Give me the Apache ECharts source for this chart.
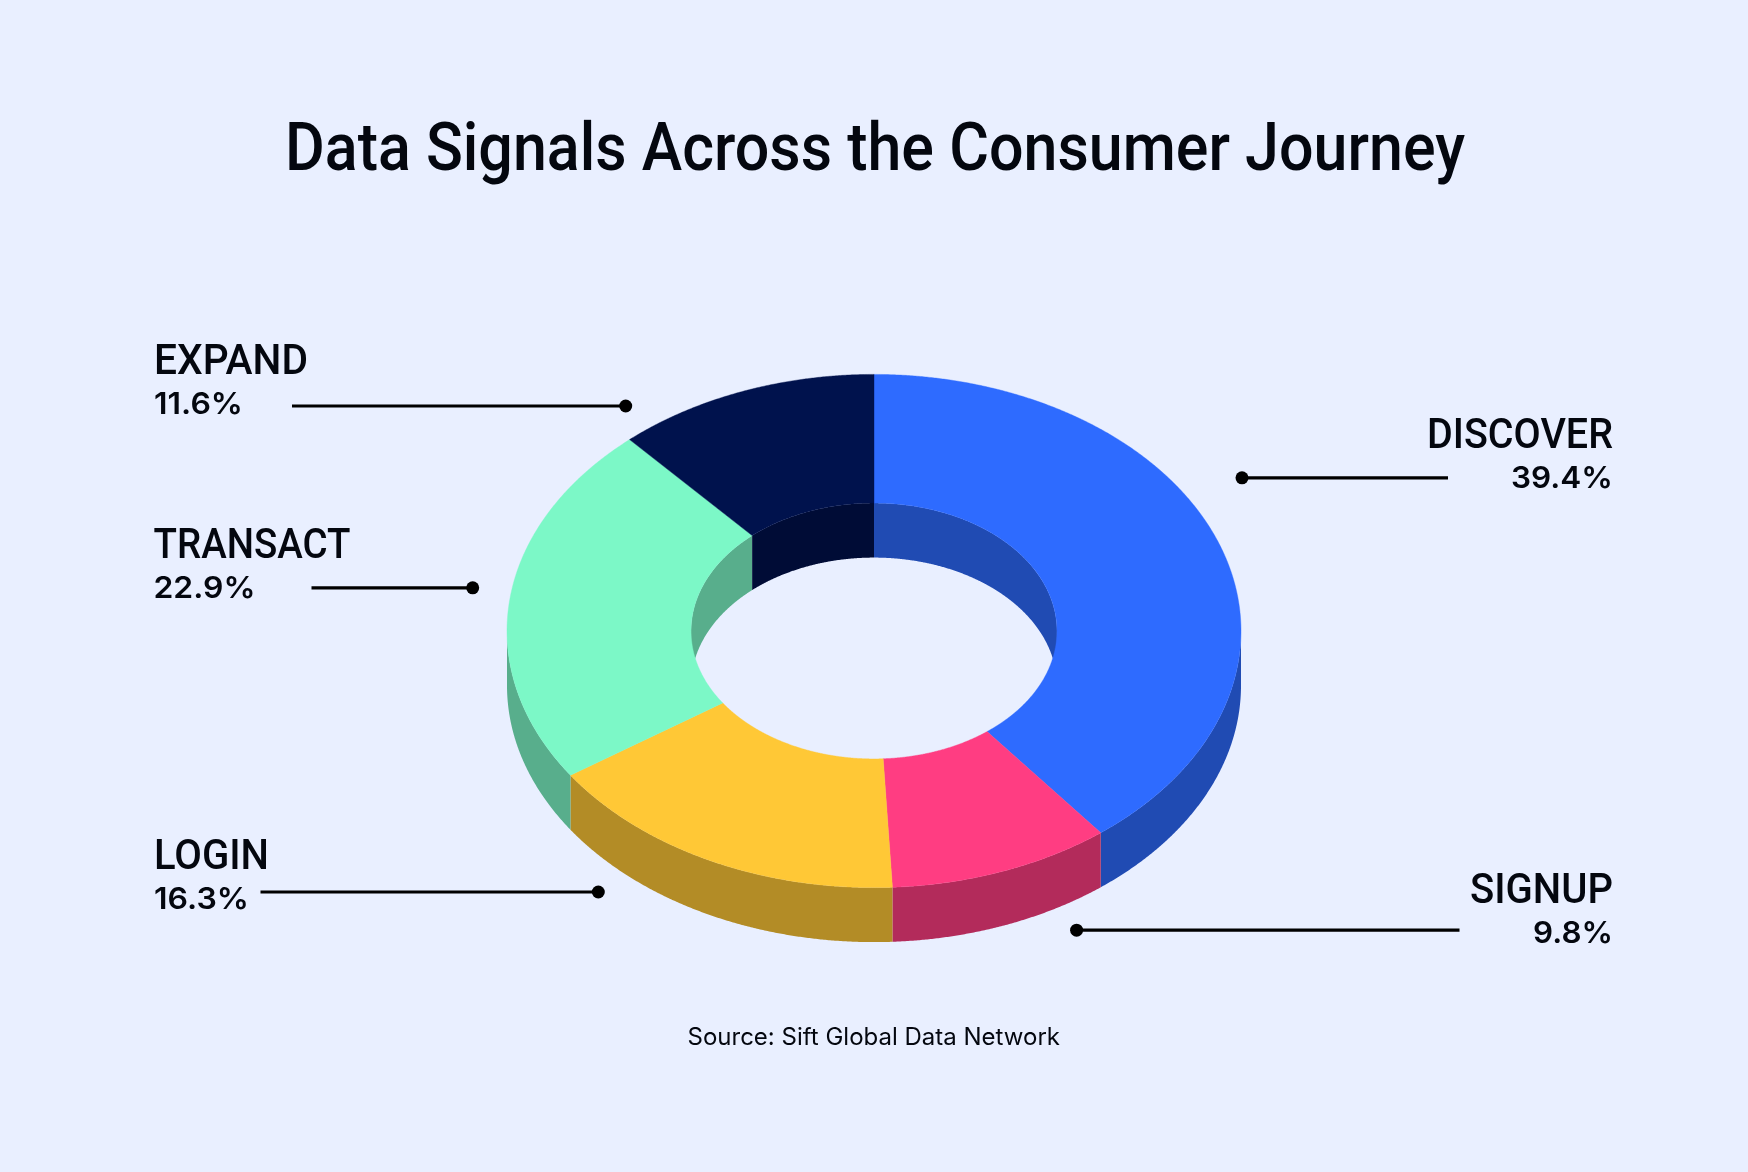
<!DOCTYPE html>
<html>
<head>
<meta charset="utf-8">
<style>html,body{margin:0;padding:0;background:#E9EFFF}#c{width:1748px;height:1172px}</style>
<script src="https://cdn.jsdelivr.net/npm/echarts@6/dist/echarts.min.js"></script>
</head>
<body>
<div id="c"></div>
<script>
// ---- data ----
const categories = ['DISCOVER', 'SIGNUP', 'LOGIN', 'TRANSACT', 'EXPAND'];
const shares = [39.4, 9.8, 16.3, 22.9, 11.6];
const titleText = 'Data Signals Across the Consumer Journey';
const sourceText = 'Source: Sift Global Data Network';

// ---- style ----
const topColors = ['#2E6BFF', '#FF3D82', '#FFC836', '#7CF8C7', '#00124D'];
const wallColors = ['#204BB3', '#B32B5B', '#B38C26', '#58AE8C', '#000C36'];
const BG = '#E9EFFF', INK = '#04070F';
const CX = 874, CY = 631, RX = 367, RY = 256.6, HOLE = 0.4985, DEPTH = 54.5;
const HEAD_FONT = '500 42px Roboto', PCT_FONT = '600 30px Inter';

// callout layout, in category order
const layout = [
  {align:'right', x:1613, head:451, headW:186, pct:489.5, pctW:102, dot:[1242,477.8], end:1448},
  {align:'right', x:1613, head:906, headW:143, pct:944.5, pctW:80, dot:[1076.6,930.2], end:1459.5},
  {align:'left',  x:154, head:872.5, headW:115, pct:911, pctW:95, dot:[598.3,892], end:260.5},
  {align:'left',  x:153.5, head:561.5, headW:197, pct:599.5, pctW:102, dot:[472.7,587.8], end:311.5},
  {align:'left',  x:154, head:377.5, headW:154, pct:416, pctW:89, dot:[625.7,406], end:292}
];

const rows = (function () {
  let acc = 0;
  return shares.map(function (v, i) { const r = [acc, v, i]; acc += v; return r; });
})();

function pt(deg, rx, ry, dy) {
  const t = deg * Math.PI / 180;
  return [CX + rx * Math.sin(t), CY - ry * Math.cos(t) + (dy || 0)];
}
function arc(a, b, rx, ry, dy) {
  const out = [], n = Math.max(2, Math.ceil(Math.abs(b - a) * 4));
  for (let k = 0; k <= n; k++) out.push(pt(a + (b - a) * k / n, rx, ry, dy));
  return out;
}
function span(api) {
  const a = api.value(0) * 3.6, b = (api.value(0) + api.value(1)) * 3.6;
  return [a, b, api.value(2)];
}
function wall(a, b, rx, ry, color) {
  return {type:'polygon', shape:{points: arc(a, b, rx, ry, 0).concat(arc(b, a, rx, ry, DEPTH))}, style:{fill:color}};
}
function clipped(a, b, lo, hi, rx, ry, color, kids) {
  const s = Math.max(a, lo), e = Math.min(b, hi);
  if (e > s) kids.push(wall(s, e, rx, ry, color));
}
function innerWalls(params, api) {
  const [a, b, i] = span(api), kids = [];
  clipped(a, b, 0, 90, RX * HOLE, RY * HOLE, wallColors[i], kids);
  clipped(a, b, 270, 360, RX * HOLE, RY * HOLE, wallColors[i], kids);
  return {type:'group', children:kids};
}
function outerWalls(params, api) {
  const [a, b, i] = span(api), kids = [];
  clipped(a, b, 90, 270, RX, RY, wallColors[i], kids);
  return {type:'group', children:kids};
}
function topFace(params, api) {
  const [a, b, i] = span(api);
  return {type:'polygon',
    shape:{points: arc(a, b, RX, RY, 0).concat(arc(b, a, RX * HOLE, RY * HOLE, 0))},
    style:{fill:topColors[i], stroke:topColors[i], lineWidth:0.4}};
}

const ctx = document.createElement('canvas').getContext('2d');
function fit(text, font, width) { ctx.font = font; return width / ctx.measureText(text).width; }
function label(text, font, x, base, width, align, midOffset) {
  return {type:'text', x:x, y:base - midOffset, scaleX:fit(text, font, width), silent:true,
    style:{text:text, font:font, fill:INK, textAlign:align, textVerticalAlign:'middle'}};
}

const elements = [];
elements.push(label(titleText, '500 67px Roboto', 285, 175, 1180, 'left', 22));
elements.push(label(sourceText, '400 24px Inter', 687.5, 1046.5, 372.5, 'left', 9));
categories.forEach(function (name, i) {
  const l = layout[i];
  elements.push(label(name, HEAD_FONT, l.x, l.head, l.headW, l.align, 14));
  elements.push(label(shares[i].toFixed(1) + '%', PCT_FONT, l.x, l.pct, l.pctW, l.align, 11));
  elements.push({type:'line', shape:{x1:l.dot[0], y1:l.dot[1], x2:l.end, y2:l.dot[1]}, style:{stroke:'#000', lineWidth:3.2}});
  elements.push({type:'circle', shape:{cx:l.dot[0], cy:l.dot[1], r:6.5}, style:{fill:'#000'}});
});

const chart = echarts.init(document.getElementById('c'), null, {renderer:'canvas'});
chart.setOption({
  animation:false,
  backgroundColor:BG,
  tooltip:{show:false},
  graphic:{elements:elements},
  series:[
    {type:'custom', coordinateSystem:'none', z:1, silent:true, data:rows, renderItem:innerWalls},
    {type:'custom', coordinateSystem:'none', z:2, silent:true, data:rows, renderItem:outerWalls},
    {type:'custom', coordinateSystem:'none', z:3, silent:true, data:rows, renderItem:topFace}
  ]
});
</script>
</body>
</html>
